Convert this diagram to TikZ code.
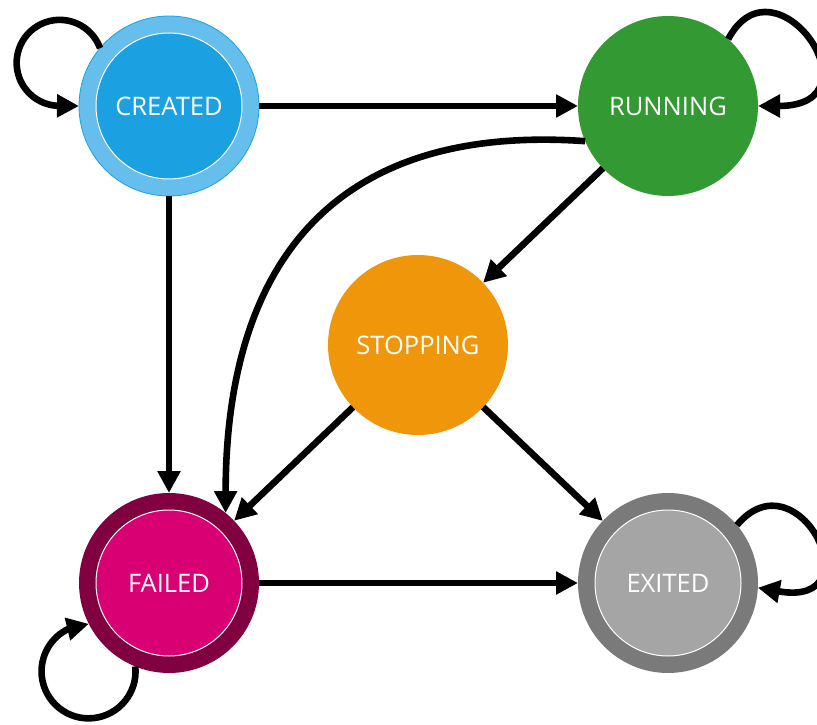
\documentclass[tikz,border=0pt]{standalone}
\usepackage{fontspec}
\setmainfont{Open Sans}
\usetikzlibrary{arrows.meta}

\definecolor{createdring}{HTML}{65BEEC}
\definecolor{createdcore}{HTML}{1BA1E2}
\definecolor{runningfill}{HTML}{339933}
\definecolor{stoppingfill}{HTML}{F0960A}
\definecolor{failedring}{HTML}{800040}
\definecolor{failedcore}{HTML}{D80073}
\definecolor{exitedring}{HTML}{7A7A7A}
\definecolor{exitedcore}{HTML}{A5A5A5}

\begin{document}
\begin{tikzpicture}[x=1pt,y=1pt,
  state/.style={circle, inner sep=0pt, outer sep=0pt, minimum size=180pt,
    text=white, font=\fontsize{25.5}{30}\selectfont},
  ringed/.style 2 args={state, fill=#1, path picture={
      \fill[#2] (path picture bounding box.center) circle[radius=73pt];
      \draw[white, line width=1pt] (path picture bounding box.center) circle[radius=73pt];}},
  arr/.style={line width=6.6pt, -{Triangle[length=22pt,width=22pt]}},
]
\useasboundingbox (0,0) rectangle (817,724);

% states
\node[ringed={createdring}{createdcore}, draw=createdcore, line width=0.8pt] (created) at (169,618) {CREATED};
\node[state, fill=runningfill] (running) at (668,618) {RUNNING};
\node[state, fill=stoppingfill] (stopping) at (418,379) {STOPPING};
\node[ringed={failedring}{failedcore}] (failed) at (169,141) {FAILED};
\node[ringed={exitedring}{exitedcore}] (exited) at (668,141) {EXITED};

% transitions
\draw[arr] (created) -- (running);
\draw[arr] (created) -- (failed);
\draw[arr] (running) -- (stopping);
\draw[arr] (stopping) -- (failed);
\draw[arr] (stopping) -- (exited);
\draw[arr] (failed) -- (exited);
\draw[arr] (running.203) .. controls +(176:300) and +(90:190) .. (failed.51);

% self loops
\draw[arr] (created.140) arc[start angle=20, end angle=270, radius=43pt] -- (created.west);
\draw[arr] (running.48) .. controls +(62:100) and +(0:125) .. (running.east);
\draw[arr] (exited.40) .. controls +(50:95) and +(350:120) .. (exited.357);
\draw[arr] (failed.248) arc[start angle=6, end angle=-245, radius=47pt] -- (failed.207);
\end{tikzpicture}
\end{document}
